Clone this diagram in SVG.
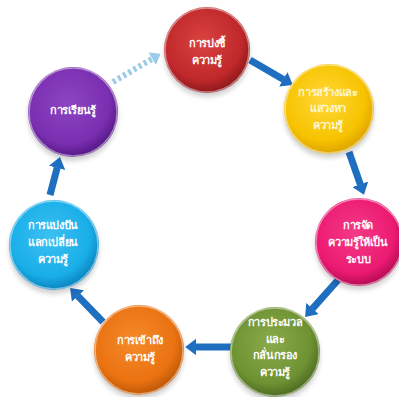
<svg xmlns="http://www.w3.org/2000/svg" width="399" height="397" viewBox="0 0 399 397">
<defs>
<style>
.t{font-family:"Noto Sans","DejaVu Sans",sans-serif;font-size:11px;font-weight:bold;fill:#ffffff;text-anchor:middle;letter-spacing:-0.4px}
.ty{fill:#fff6d0}
.rim{fill:none;stroke:#ffffff;stroke-opacity:0.45;stroke-width:1.5}
.arr{stroke:#1f6fc1;stroke-width:7;fill:none;marker-end:url(#ah)}
.shadow{fill:#000;opacity:0.18;filter:url(#blur)}
</style>
<filter id="blur" x="-20%" y="-20%" width="140%" height="140%"><feGaussianBlur stdDeviation="2.5"/></filter>
<marker id="ah" viewBox="0 0 1.6 2.4" refX="0.05" refY="1.2" markerWidth="1.6" markerHeight="2.4" orient="auto" markerUnits="strokeWidth">
<path d="M0,0 L1.6,1.2 L0,2.4 z" fill="#1f6fc1"/>
</marker>
<marker id="ahl" viewBox="0 0 1.6 2.4" refX="0.05" refY="1.2" markerWidth="1.6" markerHeight="2.4" orient="auto" markerUnits="strokeWidth">
<path d="M0,0 L1.6,1.2 L0,2.4 z" fill="#9ccbe8"/>
</marker>
<radialGradient id="gRed" cx="0.45" cy="0.4" r="0.6"><stop offset="0" stop-color="#d9433f"/><stop offset="0.75" stop-color="#c0282b"/><stop offset="1" stop-color="#8c191b"/></radialGradient>
<radialGradient id="gYel" cx="0.45" cy="0.4" r="0.6"><stop offset="0" stop-color="#ffd738"/><stop offset="0.75" stop-color="#f7c300"/><stop offset="1" stop-color="#dda300"/></radialGradient>
<radialGradient id="gPink" cx="0.45" cy="0.4" r="0.6"><stop offset="0" stop-color="#f43a86"/><stop offset="0.75" stop-color="#ec1a72"/><stop offset="1" stop-color="#b50c53"/></radialGradient>
<radialGradient id="gGrn" cx="0.45" cy="0.4" r="0.6"><stop offset="0" stop-color="#8aab4a"/><stop offset="0.75" stop-color="#6e9132"/><stop offset="1" stop-color="#4d6b21"/></radialGradient>
<radialGradient id="gOrg" cx="0.45" cy="0.4" r="0.6"><stop offset="0" stop-color="#f68a2a"/><stop offset="0.75" stop-color="#ea7211"/><stop offset="1" stop-color="#bd5807"/></radialGradient>
<radialGradient id="gCyn" cx="0.45" cy="0.4" r="0.6"><stop offset="0" stop-color="#3cc0f2"/><stop offset="0.75" stop-color="#19aee8"/><stop offset="1" stop-color="#0b84be"/></radialGradient>
<radialGradient id="gPur" cx="0.45" cy="0.4" r="0.6"><stop offset="0" stop-color="#8c45c2"/><stop offset="0.75" stop-color="#7a2fb0"/><stop offset="1" stop-color="#561887"/></radialGradient>
</defs>
<rect width="399" height="397" fill="#ffffff"/>
<g id="connectors">
<line class="arr" x1="250" y1="60" x2="283.5" y2="79.5"/>
<line class="arr" x1="349" y1="152" x2="360.4" y2="184.6"/>
<line class="arr" x1="338" y1="280" x2="312.3" y2="308.8"/>
<line class="arr" x1="232" y1="347" x2="196" y2="347"/>
<line class="arr" x1="103" y1="322" x2="77.7" y2="295.9"/>
<line class="arr" x1="50" y1="195" x2="57.2" y2="167.6"/>
<line x1="113" y1="82" x2="152.5" y2="58.6" stroke="#9ccbe8" stroke-width="6" stroke-dasharray="3 3" marker-end="url(#ahl)"/>
</g>
<g id="n1">
<ellipse class="shadow" cx="207" cy="54" rx="43" ry="43"/>
<circle cx="207" cy="50" r="43" fill="url(#gRed)"/>
<circle class="rim" cx="207" cy="50" r="42"/>
<text class="t" x="207" y="47">การบ่งชี้</text>
<text class="t" x="207" y="64">ความรู้</text>
</g>
<g id="n2">
<ellipse class="shadow" cx="329" cy="113" rx="45" ry="45"/>
<circle cx="329" cy="109" r="45" fill="url(#gYel)"/>
<circle class="rim" cx="329" cy="109" r="44"/>
<text class="t ty" x="328" y="96">การสร้างและ</text>
<text class="t ty" x="328" y="112">แสวงหา</text>
<text class="t ty" x="328" y="129">ความรู้</text>
</g>
<g id="n3">
<ellipse class="shadow" cx="359" cy="246" rx="44" ry="44"/>
<circle cx="359" cy="242" r="44" fill="url(#gPink)"/>
<circle class="rim" cx="359" cy="242" r="43"/>
<text class="t" x="358" y="229">การจัด</text>
<text class="t" x="358" y="246">ความรู้ให้เป็น</text>
<text class="t" x="358" y="263">ระบบ</text>
</g>
<g id="n4">
<ellipse class="shadow" cx="275" cy="356" rx="45" ry="45"/>
<circle cx="275" cy="352" r="45" fill="url(#gGrn)"/>
<circle class="rim" cx="275" cy="352" r="44"/>
<text class="t" x="275" y="326">การประมวล</text>
<text class="t" x="275" y="343">และ</text>
<text class="t" x="275" y="359">กลั่นกรอง</text>
<text class="t" x="275" y="376">ความรู้</text>
</g>
<g id="n5">
<ellipse class="shadow" cx="139" cy="354" rx="45" ry="45"/>
<circle cx="139" cy="350" r="45" fill="url(#gOrg)"/>
<circle class="rim" cx="139" cy="350" r="44"/>
<text class="t" x="140" y="344">การเข้าถึง</text>
<text class="t" x="140" y="361">ความรู้</text>
</g>
<g id="n6">
<ellipse class="shadow" cx="54" cy="249" rx="45" ry="45"/>
<circle cx="54" cy="245" r="45" fill="url(#gCyn)"/>
<circle class="rim" cx="54" cy="245" r="44"/>
<text class="t" x="53" y="229">การแบ่งปัน</text>
<text class="t" x="53" y="246">แลกเปลี่ยน</text>
<text class="t" x="53" y="263">ความรู้</text>
</g>
<g id="n7">
<ellipse class="shadow" cx="73" cy="116" rx="45" ry="45"/>
<circle cx="73" cy="112" r="45" fill="url(#gPur)"/>
<circle class="rim" cx="73" cy="112" r="44"/>
<text class="t" x="73" y="114">การเรียนรู้</text>
</g>
</svg>
